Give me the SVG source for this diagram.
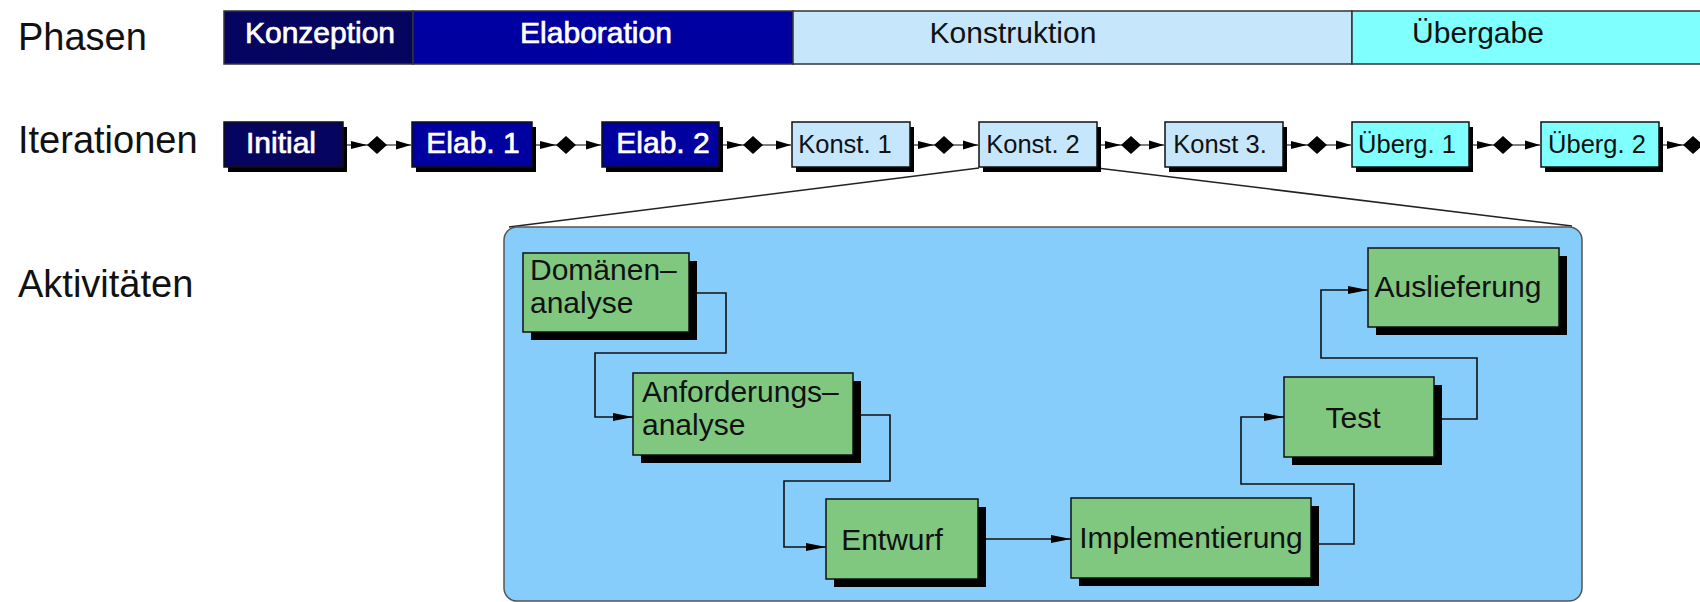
<svg xmlns="http://www.w3.org/2000/svg" xmlns:xlink="http://www.w3.org/1999/xlink" width="1700" height="602" viewBox="0 0 1700 602">
<style>
text{font-family:"Liberation Sans",Arial,sans-serif;}
.lbl{font-size:38px;fill:#111;}
.ph{font-size:30px;text-anchor:middle;}
.w{fill:#fff;stroke:#fff;stroke-width:0.7;}
.k{fill:#111;}
.itd{font-size:30px;text-anchor:middle;fill:#fff;stroke:#fff;stroke-width:0.7;}
.itl{font-size:25.5px;text-anchor:middle;fill:#111;}
.box{stroke:#111;stroke-width:1.5;}
.sh{fill:#000;}
.dk{fill:#050560;}
.bl{fill:#0000a0;}
.lb{fill:#c6e6fc;}
.cy{fill:#80ffff;}
.gr{fill:#80c880;stroke:#111;stroke-width:1.5;}
.act{font-size:30px;fill:#111;}
.ic{stroke:#555;stroke-width:1.5;fill:none;}
.ac{stroke:#111;stroke-width:1.6;fill:none;}
.zl{stroke:#222;stroke-width:1.5;fill:none;}
</style>
<defs>
<marker id="arrI" markerUnits="userSpaceOnUse" markerWidth="16" markerHeight="10" refX="15" refY="5" orient="auto"><path d="M0,0.5 L15,5 L0,9.5 z" fill="#000"/></marker>
<marker id="arrA" markerUnits="userSpaceOnUse" markerWidth="22" markerHeight="10" refX="20" refY="5" orient="auto"><path d="M0,1 L20,5 L0,9 z" fill="#000"/></marker>
<g id="chain"><path d="M8,-4 L24,0 L8,4 z" fill="#000"/><path d="M24,0 L34,-9 L44,0 L34,9 z" fill="#000"/></g>
</defs>
<rect width="1700" height="602" fill="#fff"/>

<g id="labels">
<text class="lbl" x="18" y="50">Phasen</text>
<text class="lbl" x="18" y="153">Iterationen</text>
<text class="lbl" x="18" y="297">Aktivitäten</text>
</g>

<g id="phases">
<g id="phase-konzeption"><rect class="dk" x="224" y="11" width="189" height="53" stroke="#333" stroke-width="1.5"/><text class="ph w" x="320" y="43">Konzeption</text></g>
<g id="phase-elaboration"><rect class="bl" x="413" y="11" width="380" height="53" stroke="#333" stroke-width="1.5"/><text class="ph w" x="596" y="43">Elaboration</text></g>
<g id="phase-konstruktion"><rect class="lb" x="793" y="11" width="559" height="53" stroke="#333" stroke-width="1.5"/><text class="ph k" x="1013" y="43">Konstruktion</text></g>
<g id="phase-uebergabe"><rect class="cy" x="1352" y="11" width="360" height="53" stroke="#333" stroke-width="1.5"/><text class="ph k" x="1478" y="43">Übergabe</text></g>
</g>

<g id="connectors">
<path class="zl" d="M979,168 L509,227"/>
<path class="zl" d="M1097,168 L1572,226"/>
<path class="ic" d="M343,145 H411" marker-end="url(#arrI)"/>
<path class="ic" d="M532,145 H601" marker-end="url(#arrI)"/>
<path class="ic" d="M719,145 H791" marker-end="url(#arrI)"/>
<path class="ic" d="M910,145 H978" marker-end="url(#arrI)"/>
<path class="ic" d="M1097,145 H1164" marker-end="url(#arrI)"/>
<path class="ic" d="M1283,145 H1351" marker-end="url(#arrI)"/>
<path class="ic" d="M1469,145 H1540" marker-end="url(#arrI)"/>
<path class="ic" d="M1659,145 H1700"/>
<use xlink:href="#chain" x="343" y="145"/>
<use xlink:href="#chain" x="532" y="145"/>
<use xlink:href="#chain" x="719" y="145"/>
<use xlink:href="#chain" x="910" y="145"/>
<use xlink:href="#chain" x="1097" y="145"/>
<use xlink:href="#chain" x="1283" y="145"/>
<use xlink:href="#chain" x="1469" y="145"/>
<use xlink:href="#chain" x="1659" y="145"/>
</g>

<g id="iterations">
<g id="it-initial"><rect class="sh" x="228" y="127" width="119" height="45"/><rect class="box dk" x="224" y="122" width="119" height="45"/><text class="itd" x="281" y="153">Initial</text></g>
<g id="it-elab1"><rect class="sh" x="416" y="127" width="120" height="45"/><rect class="box bl" x="412" y="122" width="120" height="45"/><text class="itd" x="473" y="153">Elab. 1</text></g>
<g id="it-elab2"><rect class="sh" x="606" y="127" width="117" height="45"/><rect class="box bl" x="602" y="122" width="117" height="45"/><text class="itd" x="663" y="153">Elab. 2</text></g>
<g id="it-konst1"><rect class="sh" x="796" y="127" width="118" height="45"/><rect class="box lb" x="792" y="122" width="118" height="45"/><text class="itl" x="845" y="153">Konst. 1</text></g>
<g id="it-konst2"><rect class="sh" x="983" y="127" width="118" height="45"/><rect class="box lb" x="979" y="122" width="118" height="45"/><text class="itl" x="1033" y="153">Konst. 2</text></g>
<g id="it-konst3"><rect class="sh" x="1169" y="127" width="118" height="45"/><rect class="box lb" x="1165" y="122" width="118" height="45"/><text class="itl" x="1220" y="153">Konst 3.</text></g>
<g id="it-ueberg1"><rect class="sh" x="1356" y="127" width="117" height="45"/><rect class="box cy" x="1352" y="122" width="117" height="45"/><text class="itl" x="1407" y="153">Überg. 1</text></g>
<g id="it-ueberg2"><rect class="sh" x="1545" y="127" width="118" height="45"/><rect class="box cy" x="1541" y="122" width="118" height="45"/><text class="itl" x="1597" y="153">Überg. 2</text></g>
</g>

<g id="activities-frame">
<rect x="504" y="227" width="1078" height="374" rx="13" fill="#87cdfc" stroke="#555" stroke-width="1.5"/>
</g>

<g id="activity-connectors">
<path class="ac" d="M689,293 H726 V353 H595 V417 H633" marker-end="url(#arrA)"/>
<path class="ac" d="M853,415 H890 V481 H784 V547 H826" marker-end="url(#arrA)"/>
<path class="ac" d="M978,539 H1071" marker-end="url(#arrA)"/>
<path class="ac" d="M1311,544 H1354 V484 H1241 V417 H1284" marker-end="url(#arrA)"/>
<path class="ac" d="M1434,419 H1477 V358 H1321 V290 H1368" marker-end="url(#arrA)"/>
</g>

<g id="act-domaenen"><rect class="sh" x="531" y="261" width="166" height="79"/><rect class="gr" x="523" y="253" width="166" height="79"/><text class="act" x="530" y="280">Domänen–</text><text class="act" x="530" y="313">analyse</text></g>
<g id="act-anforderungen"><rect class="sh" x="641" y="381" width="220" height="82"/><rect class="gr" x="633" y="373" width="220" height="82"/><text class="act" x="642" y="402">Anforderungs–</text><text class="act" x="642" y="435">analyse</text></g>
<g id="act-entwurf"><rect class="sh" x="834" y="507" width="152" height="80"/><rect class="gr" x="826" y="499" width="152" height="80"/><text class="act" x="892" y="550" text-anchor="middle">Entwurf</text></g>
<g id="act-implementierung"><rect class="sh" x="1079" y="506" width="240" height="80"/><rect class="gr" x="1071" y="498" width="240" height="80"/><text class="act" x="1191" y="548" text-anchor="middle">Implementierung</text></g>
<g id="act-test"><rect class="sh" x="1292" y="385" width="150" height="80"/><rect class="gr" x="1284" y="377" width="150" height="80"/><text class="act" x="1353" y="428" text-anchor="middle">Test</text></g>
<g id="act-auslieferung"><rect class="sh" x="1376" y="256" width="191" height="79"/><rect class="gr" x="1368" y="248" width="191" height="79"/><text class="act" x="1458" y="297" text-anchor="middle">Auslieferung</text></g>
</svg>
